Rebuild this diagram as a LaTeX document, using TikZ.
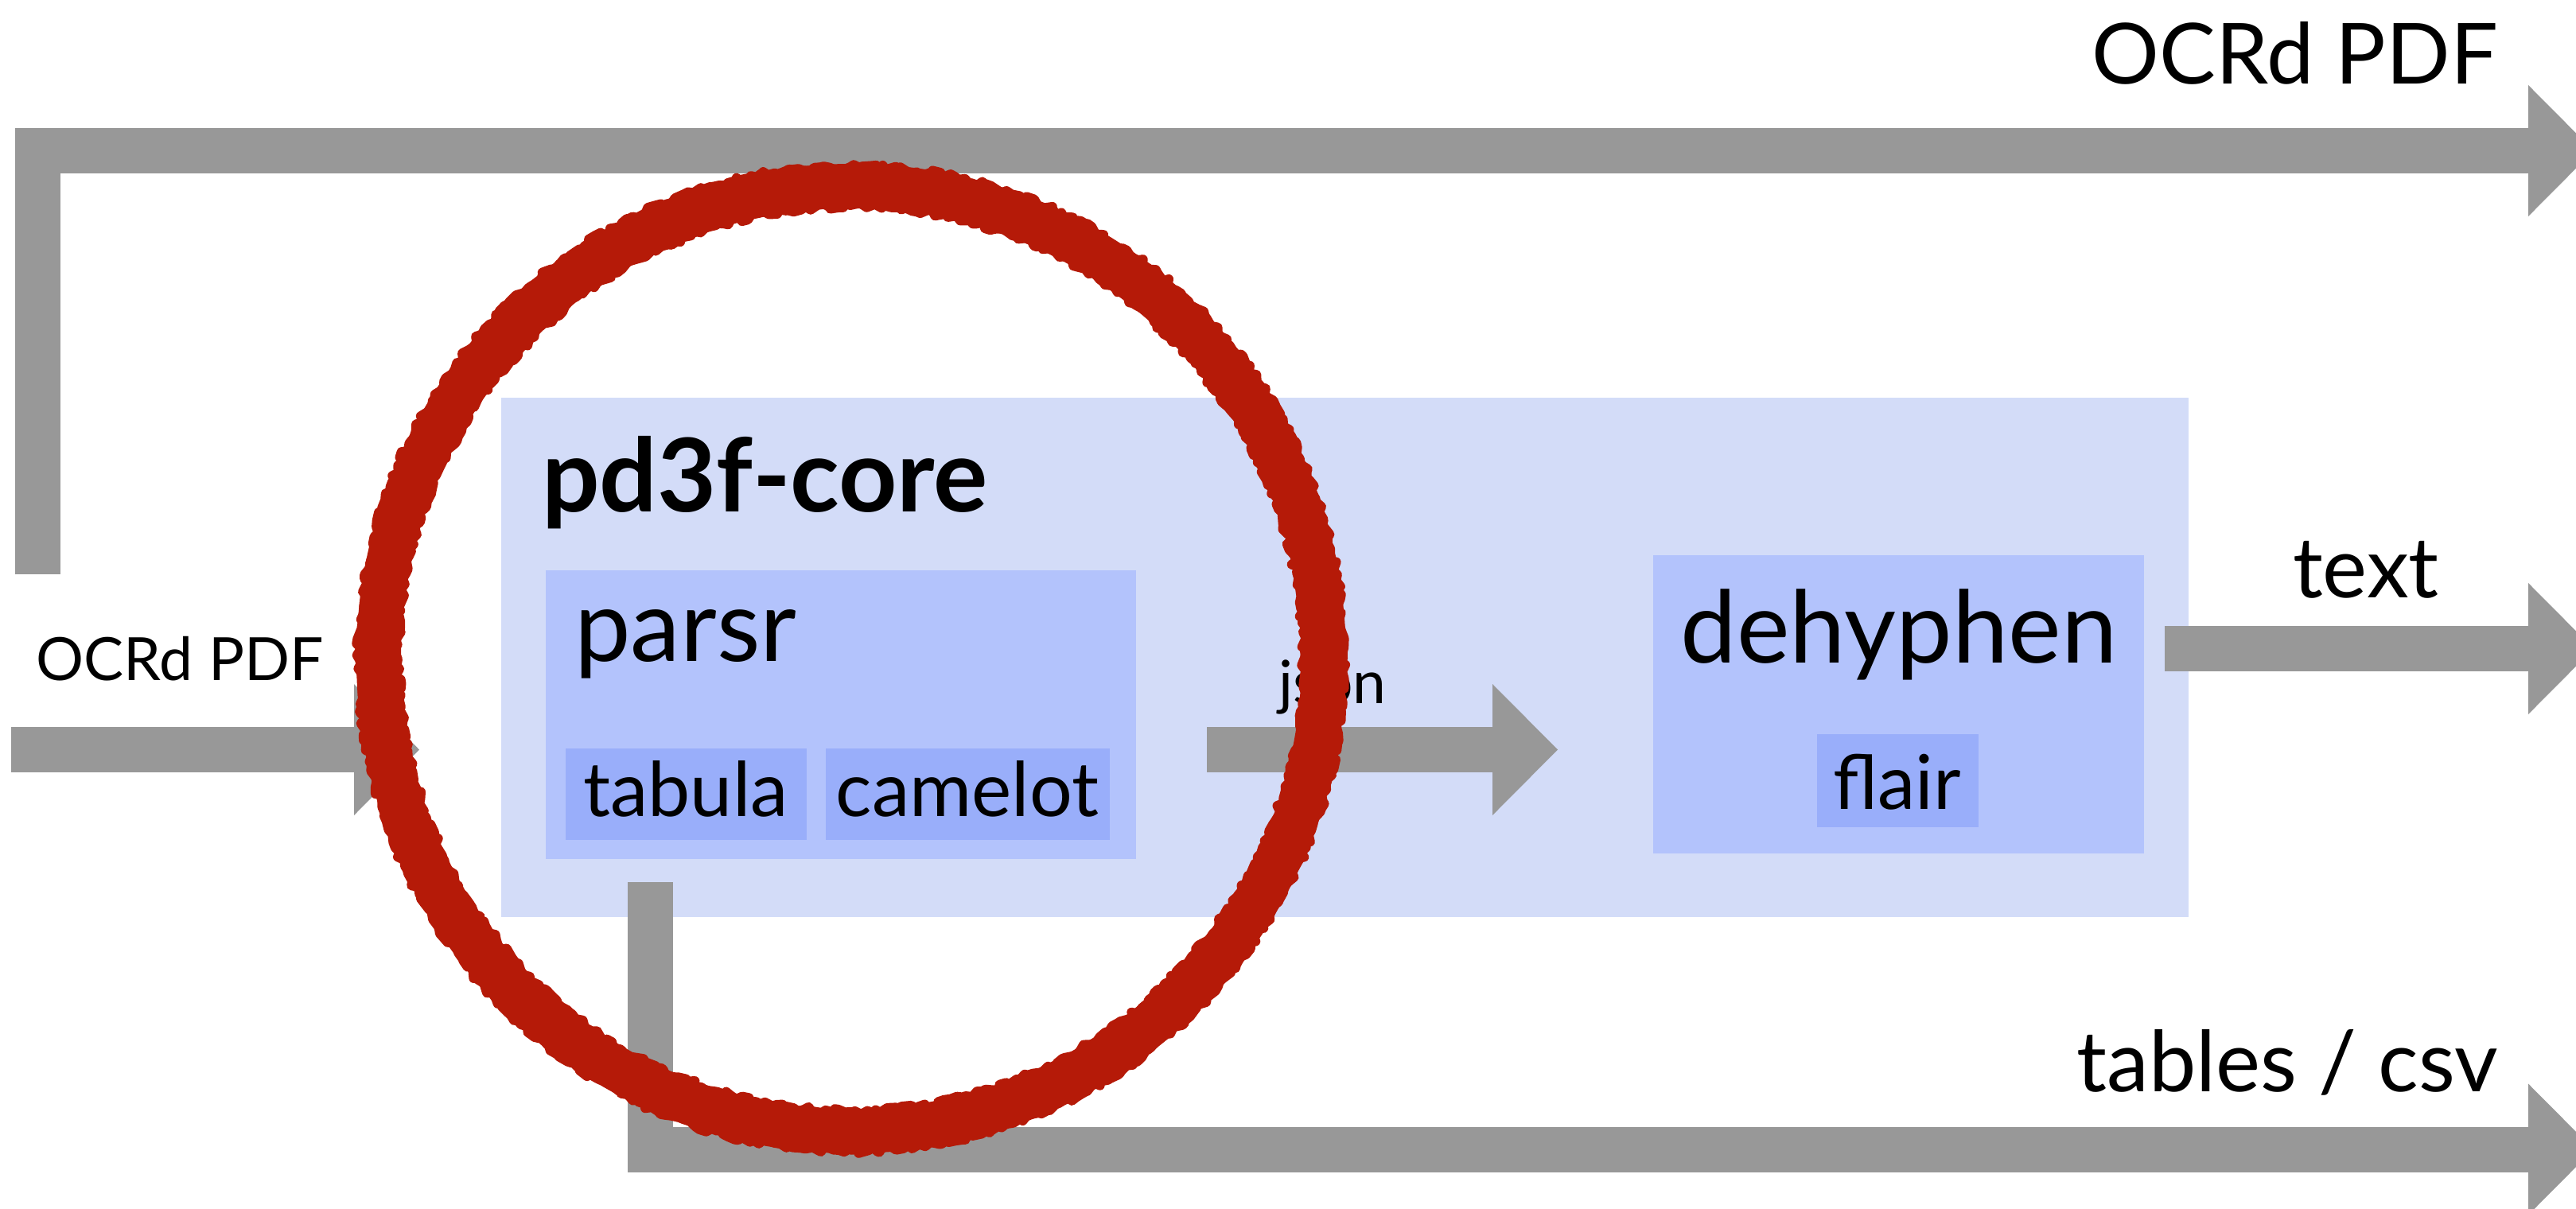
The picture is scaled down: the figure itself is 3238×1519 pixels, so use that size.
\documentclass[tikz,border=0pt]{standalone}
\usepackage{fontspec}
\setmainfont{Lato}
\usetikzlibrary{arrows.meta,decorations.pathmorphing}
\definecolor{arrowgray}{HTML}{989898}
\definecolor{corebg}{HTML}{D3DCF8}
\definecolor{modbg}{HTML}{B3C3FC}
\definecolor{subbg}{HTML}{99AEFA}
\definecolor{stampred}{HTML}{B51A08}
\begin{document}
\begin{tikzpicture}[x=1pt,y=-1pt,
  box/.style={anchor=north west, inner sep=0pt, outer sep=0pt, draw=none},
  corebox/.style={box, fill=corebg},
  modbox/.style={box, fill=modbg},
  subbox/.style={box, fill=subbg},
  flow/.style={draw=arrowgray, line width=57pt, line join=miter, line cap=butt,
    -{Triangle[length=82pt,width=165pt,line width=0pt,fill=arrowgray]}},
  biglbl/.style={inner sep=0pt, font=\fontsize{106}{120}\selectfont},
  smalllbl/.style={inner sep=0pt, font=\fontsize{75}{85}\selectfont},
  jsonlbl/.style={inner sep=0pt, font=\fontsize{75}{85}\selectfont},
  corelbl/.style={inner sep=0pt, anchor=base west, font=\bfseries\fontsize{128}{140}\selectfont},
  modlbl/.style={inner sep=0pt, font=\fontsize{126}{140}\selectfont},
  sublbl/.style={inner sep=0pt, anchor=base, font=\fontsize{95}{108}\selectfont},
  stamp/.style={draw=stampred, line width=56pt},
  stamprough/.style={draw=stampred, line width=12pt, line join=round,
    decorate, decoration={random steps, segment length=6pt, amplitude=4pt}}
]
\useasboundingbox (0,0) rectangle (3238,1519);
\pgfmathsetseed{11}

% boxes
\node[corebox, minimum width=2121pt, minimum height=653pt] (core) at (630,500) {};
\node[corelbl] (coretxt) at (681,643) {pd3f-core};
\node[modbox, minimum width=742pt, minimum height=363pt] (parsr) at (686,717) {};
\node[modlbl, anchor=base west] (parsrtxt) at (722,831) {parsr};
\node[subbox, minimum width=303pt, minimum height=115pt] (tabula) at (711,941) {};
\node[sublbl] (tabulatxt) at (862,1026) {tabula};
\node[subbox, minimum width=357pt, minimum height=115pt] (camelot) at (1038,941) {};
\node[sublbl] (camelottxt) at (1216,1026) {camelot};
\node[modbox, minimum width=617pt, minimum height=375pt] (dehyph) at (2078,698) {};
\node[modlbl, anchor=base] (dehyphtxt) at (2387,833) {dehyphen};
\node[subbox, minimum width=203pt, minimum height=117pt] (flair) at (2284,923) {};
\node[sublbl] (flairtxt) at (2385,1017) {flair};

% labels
\node[biglbl, anchor=base east] (outpdf) at (3140,105) {OCRd PDF};
\node[smalllbl, anchor=base] (inpdf) at (226,855) {OCRd PDF};
\node[jsonlbl, anchor=base] (json) at (1675,884) {json};
\node[biglbl, anchor=base] (textlbl) at (2974,751) {text};
\node[biglbl, anchor=base east] (tableslbl) at (3140,1372) {tables / csv};

% connector end points
\coordinate (in0) at (14,942.5);
\coordinate (in1) at (527,942.5);
\coordinate (top0) at (47.5,722);
\coordinate (top1) at (3260,189.5);
\coordinate (js0) at (1517,942.5);
\coordinate (js1) at (1958,942.5);
\coordinate (tx0) at (2721,815.5);
\coordinate (tx1) at (3260,815.5);
\coordinate (bt0) at (817,1109);
\coordinate (bt1) at (3260,1445);

% connectors
\draw[flow] (in0) -- (in1);
\draw[flow] (top0) |- (top1);
\draw[flow] (js0) -- (js1);
\draw[flow] (tx0) -- (tx1);
\draw[flow] (bt0) |- (bt1);

% stamp
\draw[stamp] (1070,828) circle[radius=594pt];
\draw[stamprough] (1070,828) circle[radius=618pt];
\draw[stamprough] (1070,828) circle[radius=570pt];
\end{tikzpicture}
\end{document}
